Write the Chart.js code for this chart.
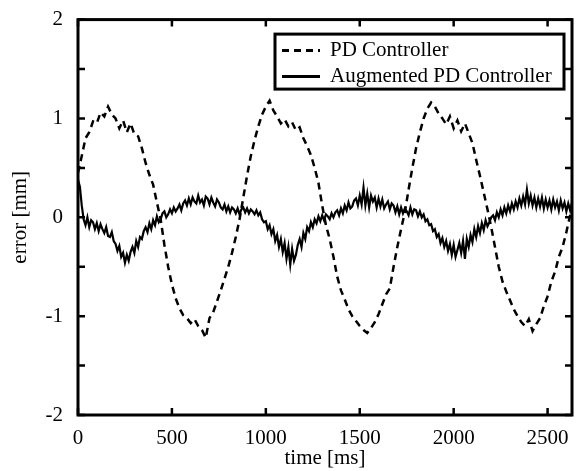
<!DOCTYPE html>
<html>
<head>
<meta charset="utf-8">
<script src="https://cdn.jsdelivr.net/npm/chart.js@4.4.0/dist/chart.umd.min.js"></script>
<style>
  html, body { margin: 0; padding: 0; background: #fff; }
  #wrap { width: 577px; height: 471px; }
</style>
</head>
<body>
<div id="wrap"><canvas id="errorChart" width="577" height="471"></canvas></div>
<script>
// sample spacing (ms) of each recorded series
const pdStep = 20;
const augStep = 10;

// PD controller error [mm], one value every 20 ms
const pdError = [
    0.45, 0.62, 0.8, 0.86, 0.97, 0.95, 1.06, 1.02, 1.12, 1.04,
    1.0, 0.9, 0.98, 0.86, 0.95, 0.84, 0.82, 0.7, 0.55, 0.43,
    0.33, 0.15, -0.02, -0.28, -0.5, -0.68, -0.82, -0.92, -0.99, -1.02,
    -1.07, -1.03, -1.1, -1.14, -1.22, -1.02, -0.96, -0.85, -0.74, -0.62,
    -0.5, -0.36, -0.2, -0.02, 0.2, 0.42, 0.62, 0.78, 0.92, 1.04,
    1.12, 1.18, 1.08, 1.02, 0.95, 0.99, 0.92, 0.96, 0.88, 0.91,
    0.8, 0.72, 0.63, 0.5, 0.35, 0.12, -0.08, -0.22, -0.4, -0.6,
    -0.74, -0.83, -0.93, -1.0, -1.05, -1.1, -1.14, -1.17, -1.12, -1.06,
    -0.98, -0.88, -0.78, -0.72, -0.5, -0.3, -0.12, 0.05, 0.28, 0.5,
    0.7, 0.86, 1.0, 1.1, 1.16, 1.12, 1.05, 1.0, 0.94, 1.02,
    0.9, 0.98, 0.87, 0.95, 0.85, 0.75, 0.58, 0.42, 0.25, 0.08,
    -0.1, -0.3, -0.5, -0.65, -0.75, -0.84, -0.93, -1.0, -1.06, -1.1,
    -1.03, -1.15, -1.08, -1.02, -0.9, -0.8, -0.65, -0.55, -0.4, -0.3,
    -0.15, 0.02, 0.12
];

// augmented PD controller error [mm], one value every 10 ms
const augError = [
    0.38, 0.31, 0.12, -0.02, -0.08, 0.0, -0.1, -0.03, -0.05, -0.12,
    -0.06, -0.14, -0.07, -0.12, -0.16, -0.1, -0.19, -0.2, -0.15, -0.24,
    -0.27, -0.34, -0.29, -0.4, -0.36, -0.46, -0.38, -0.44, -0.35, -0.3,
    -0.36, -0.24, -0.3, -0.2, -0.22, -0.14, -0.1, -0.15, -0.06, -0.12,
    -0.03, -0.08, 0.01, -0.05, -0.02, 0.04, 0.06, 0.0, 0.03, 0.08,
    0.04, 0.1, 0.06, 0.09, 0.13, 0.07, 0.14, 0.17, 0.12, 0.19,
    0.13, 0.2, 0.16, 0.14, 0.22, 0.15, 0.18, 0.12, 0.21, 0.19,
    0.13, 0.2, 0.15, 0.11, 0.18, 0.15, 0.1, 0.08, 0.13, 0.06,
    0.11, 0.05, 0.1, 0.08, 0.04, 0.09, 0.03, 0.08, 0.1, 0.05,
    0.09, 0.04, 0.08, 0.06, 0.03, 0.07, 0.02, 0.05, -0.02, -0.05,
    -0.04, -0.12, -0.08, -0.17, -0.12, -0.24, -0.18, -0.3, -0.22, -0.35,
    -0.26, -0.42, -0.3, -0.48, -0.32, -0.44, -0.38, -0.28, -0.22, -0.3,
    -0.16, -0.22, -0.1, -0.14, -0.05, -0.1, -0.02, -0.06, 0.01, -0.04,
    0.02, -0.03, 0.03, 0.01, -0.02, 0.04, 0.0, 0.05, 0.07, 0.02,
    0.09, 0.04, 0.12, 0.07, 0.15, 0.09, 0.11, 0.17, 0.19, 0.12,
    0.22, 0.13, 0.3, 0.12, 0.24, 0.1, 0.22, 0.16, 0.2, 0.1,
    0.19, 0.11, 0.18, 0.09, 0.13, 0.16, 0.08, 0.14, 0.12, 0.05,
    0.11, 0.03, 0.1, 0.04, 0.09, 0.06, 0.02, 0.1, 0.03, 0.08,
    0.07, 0.01, 0.06, 0.0, 0.03, -0.04, -0.02, -0.08, -0.07, -0.14,
    -0.12, -0.2, -0.17, -0.26, -0.21, -0.3, -0.24, -0.34, -0.27, -0.38,
    -0.28, -0.4, -0.33, -0.26, -0.36, -0.24, -0.42, -0.22, -0.3, -0.18,
    -0.25, -0.12, -0.2, -0.09, -0.16, -0.06, -0.13, -0.03, -0.09, -0.05,
    0.0, 0.02, -0.03, 0.05, 0.0, 0.08, 0.02, 0.1, 0.04, 0.12,
    0.06, 0.14, 0.08, 0.16, 0.1, 0.19, 0.12, 0.21, 0.13, 0.28,
    0.14, 0.22, 0.12, 0.2, 0.1, 0.19, 0.11, 0.2, 0.09, 0.18,
    0.1, 0.17, 0.08, 0.18, 0.1, 0.16, 0.07, 0.17, 0.09, 0.15,
    0.06, 0.14, 0.07, 0.15, 0.12
];

const seriesNames = ["PD Controller", "Augmented PD Controller"];
const xTicks = [0, 500, 1000, 1500, 2000, 2500];
const yTicks = [-2, -1.5, -1, -0.5, 0, 0.5, 1, 1.5, 2];
const yTickLabels = ["-2", "", "-1", "", "0", "", "1", "", "2"];

const serif = "'Liberation Serif', 'Times New Roman', serif";
const labelFont = { family: serif, size: 21 };

const pdPoints = pdError.map((v, i) => ({ x: i * pdStep, y: v }));
const augPoints = augError.map((v, i) => ({ x: i * augStep, y: v }));

// box, inward ticks on all four sides, and the legend inside the plot
const framePlugin = {
    id: "frame",
    afterDatasetsDraw(chart) {
        const { ctx, chartArea: a, scales } = chart;
        const x = scales.x;
        const y = scales.y;
        ctx.save();
        ctx.strokeStyle = "#000";
        ctx.setLineDash([]);

        ctx.lineWidth = 2.5;
        ctx.beginPath();
        xTicks.forEach((v) => {
            const px = x.getPixelForValue(v);
            ctx.moveTo(px, a.bottom);
            ctx.lineTo(px, a.bottom - 7);
            ctx.moveTo(px, a.top);
            ctx.lineTo(px, a.top + 7);
        });
        yTicks.forEach((v) => {
            const py = y.getPixelForValue(v);
            ctx.moveTo(a.left, py);
            ctx.lineTo(a.left + 7, py);
            ctx.moveTo(a.right, py);
            ctx.lineTo(a.right - 7, py);
        });
        ctx.stroke();

        ctx.lineWidth = 3;
        ctx.strokeRect(a.left, a.top, a.right - a.left, a.bottom - a.top);

        // legend
        const bx = a.left + 197, by = a.top + 14.5, bw = 289, bh = 55;
        ctx.fillStyle = "#fff";
        ctx.fillRect(bx, by, bw, bh);
        ctx.strokeRect(bx, by, bw, bh);

        ctx.font = "21px " + serif;
        ctx.fillStyle = "#000";
        ctx.textBaseline = "middle";
        chart.data.datasets.forEach((ds, i) => {
            const ly = by + 16.5 + i * 26;
            ctx.lineWidth = 3;
            ctx.setLineDash(ds.borderDash || []);
            ctx.beginPath();
            ctx.moveTo(bx + 7, ly);
            ctx.lineTo(bx + 45, ly);
            ctx.stroke();
            ctx.setLineDash([]);
            ctx.fillText(ds.label, bx + 55, ly);
        });
        ctx.restore();
    }
};

const errorChart = new Chart(document.getElementById("errorChart").getContext("2d"), {
    type: "line",
    data: {
        datasets: [
            {
                label: seriesNames[0],
                data: pdPoints,
                borderColor: "#000",
                borderWidth: 2.5,
                borderDash: [7, 5],
                pointRadius: 0,
                tension: 0,
                fill: false,
            },
            {
                label: seriesNames[1],
                data: augPoints,
                borderColor: "#000",
                borderWidth: 2.2,
                pointRadius: 0,
                tension: 0,
                fill: false,
            },
        ],
    },
    options: {
        responsive: false,
        animation: false,
        devicePixelRatio: 1,
        layout: {
            padding: { top: 17, right: 5, left: 0, bottom: 0 },
        },
        plugins: {
            legend: { display: false },
            tooltip: { enabled: false },
        },
        scales: {
            x: {
                type: "linear",
                min: 0,
                max: 2630,
                afterBuildTicks: (s) => {
                    s.ticks = xTicks.map((v) => ({ value: v }));
                },
                afterFit: (s) => {
                    s.height = 56;
                },
                grid: { display: false },
                border: { display: false },
                ticks: {
                    font: labelFont,
                    color: "#000",
                    padding: 3,
                    maxRotation: 0,
                    autoSkip: false,
                    callback: (value) => String(value),
                },
                title: {
                    display: true,
                    text: "time [ms]",
                    font: labelFont,
                    color: "#000",
                    padding: { top: 0, bottom: 0 },
                },
            },
            y: {
                min: -2,
                max: 2,
                afterBuildTicks: (s) => {
                    s.ticks = yTicks.map((v) => ({ value: v }));
                },
                afterFit: (s) => {
                    s.width = 78;
                },
                grid: { display: false },
                border: { display: false },
                ticks: {
                    font: labelFont,
                    color: "#000",
                    padding: 7,
                    autoSkip: false,
                    callback: (value) => yTickLabels[yTicks.indexOf(value)] ?? "",
                },
                title: {
                    display: true,
                    text: "error [mm]",
                    font: labelFont,
                    color: "#000",
                    padding: { top: 8, bottom: 0 },
                },
            },
        },
    },
    plugins: [framePlugin],
});
</script>
</body>
</html>
